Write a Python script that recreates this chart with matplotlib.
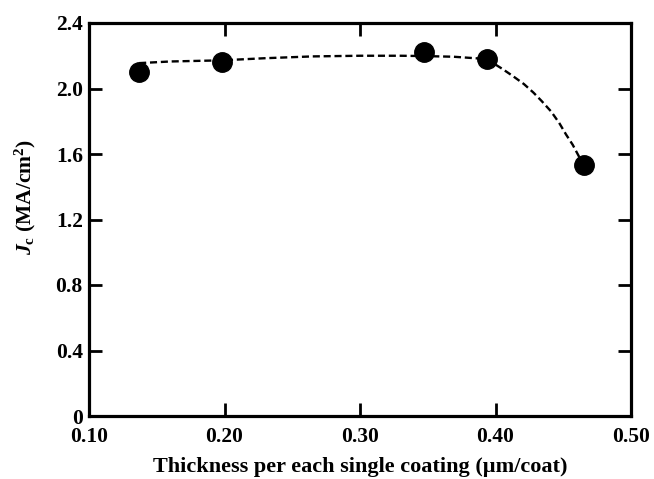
import matplotlib
matplotlib.use('Agg')
import matplotlib.pyplot as plt

# measured points
thickness = [0.137, 0.198, 0.3475, 0.3935, 0.465]
jc = [2.10, 2.16, 2.22, 2.18, 1.53]

# dashed guide curve
curve_x = [0.137, 0.160, 0.198, 0.230, 0.265, 0.300, 0.330, 0.3475, 0.369,
           0.3935, 0.405, 0.413, 0.421, 0.428, 0.434, 0.441, 0.447, 0.452, 0.457, 0.463]
curve_y = [2.155, 2.165, 2.172, 2.185, 2.196, 2.200, 2.200, 2.198, 2.194,
           2.180, 2.12, 2.075, 2.027, 1.975, 1.924, 1.86, 1.79, 1.72, 1.656, 1.563]

xticks = [0.10, 0.20, 0.30, 0.40, 0.50]
xticklabels = ['0.10', '0.20', '0.30', '0.40', '0.50']
yticks = [0, 0.4, 0.8, 1.2, 1.6, 2.0, 2.4]
yticklabels = ['0', '0.4', '0.8', '1.2', '1.6', '2.0', '2.4']

plt.rcParams['font.family'] = ['Liberation Serif', 'DejaVu Serif']
plt.rcParams['mathtext.fontset'] = 'custom'
plt.rcParams['mathtext.it'] = 'Liberation Serif:italic:bold'
plt.rcParams['mathtext.rm'] = 'Liberation Serif:bold'
plt.rcParams['mathtext.bf'] = 'Liberation Serif:bold'

fig = plt.figure(figsize=(6.54, 4.79), dpi=100)
ax = fig.add_axes([89 / 654, 1 - 416 / 479, 542 / 654, 393 / 479])

ax.plot(curve_x, curve_y, color='black', linestyle=(0, (3, 1.6)), linewidth=1.7)
ax.plot(thickness, jc, 'o', color='black', markersize=14)

ax.set_xlim(0.10, 0.50)
ax.set_ylim(0, 2.4)
ax.set_xticks(xticks)
ax.set_xticklabels(xticklabels)
ax.set_yticks(yticks)
ax.set_yticklabels(yticklabels)

for s in ax.spines.values():
    s.set_linewidth(2.3)
ax.tick_params(axis='both', direction='in', length=9.5, width=2,
               top=True, right=True, labelsize=15.5)
ax.tick_params(axis='x', pad=8)
ax.tick_params(axis='y', pad=4.5)
for lab in ax.get_xticklabels() + ax.get_yticklabels():
    lab.set_fontweight('bold')

ax.set_xlabel('Thickness per each single coating (\u00b5m/coat)', fontsize=16,
              fontweight='bold')
ax.xaxis.set_label_coords(0.5, -0.105)
ax.set_ylabel(r'$J_\mathrm{c}$ (MA/cm$^\mathrm{2}$)', fontsize=15.5,
              fontweight='bold')
ax.yaxis.set_label_coords(-0.095, 0.557)

fig.savefig('out.png', dpi=100)
